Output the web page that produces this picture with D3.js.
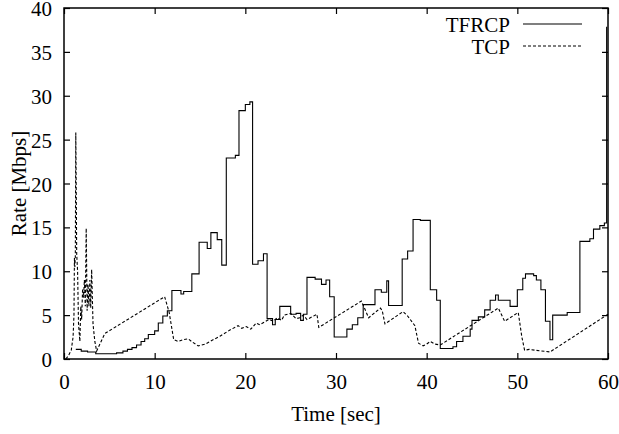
<!DOCTYPE html>
<html>
<head>
  <meta charset="UTF-8">
  <title>Rate vs Time</title>
  <style>
    body { margin: 0; background: #fff; }
    svg { display: block; }
    text { font-family: "Liberation Serif", "DejaVu Serif", serif; }
  </style>
</head>
<body>
  <svg width="619" height="434"></svg>

  <script src="https://d3js.org/d3.v7.min.js"></script>
  <script>
    // TFRCP rate (step-after), [time sec, Mbps]
    const tfrcp = [
      [1.3, 1.1], [1.9, 0.9], [2.6, 0.8], [3.5, 0.6], [5.8, 0.7], [6.5, 0.9], [7.0, 1.1],
      [7.5, 1.3], [8.0, 1.6], [8.5, 2.0], [8.9, 2.3], [9.3, 2.8], [10.0, 3.2], [10.4, 4.1],
      [10.9, 4.9], [11.4, 5.5], [11.9, 7.8], [12.9, 7.4], [13.2, 7.7], [14.1, 9.7],
      [14.9, 13.3], [15.8, 12.6], [16.2, 14.4], [16.9, 13.6], [17.4, 10.7], [17.9, 22.9],
      [18.9, 23.2], [19.3, 28.3], [20.0, 29.0], [20.5, 29.3], [20.8, 10.8], [21.4, 11.2],
      [22.0, 12.0], [22.4, 4.6], [23.0, 3.9], [23.3, 4.5], [23.8, 6.0], [25.0, 5.1],
      [25.6, 5.2], [26.1, 4.4], [26.4, 5.1], [26.8, 9.3], [27.7, 9.1], [28.4, 8.5],
      [28.9, 9.0], [29.3, 7.1], [29.8, 2.5], [31.2, 3.4], [31.8, 3.9], [32.4, 4.7],
      [33.0, 6.2], [34.3, 7.9], [35.0, 7.6], [35.6, 8.9], [35.8, 6.1], [37.3, 11.4],
      [37.9, 12.3], [38.5, 15.9], [39.3, 15.8], [40.4, 7.9], [41.1, 6.7], [41.5, 1.2],
      [42.9, 1.4], [43.3, 2.0], [44.0, 2.6], [44.8, 3.4], [45.0, 4.4], [45.7, 4.8],
      [46.4, 5.6], [47.0, 6.7], [47.6, 7.3], [47.9, 6.7], [49.2, 6.0], [50.0, 7.9],
      [50.6, 9.2], [50.9, 9.7], [51.8, 9.5], [52.1, 9.0], [52.6, 7.9], [53.1, 4.3],
      [53.6, 2.2], [53.9, 5.0], [55.5, 5.3], [56.9, 13.4], [58.0, 13.7], [58.4, 14.8],
      [59.1, 15.2], [59.6, 15.5], [59.85, 37.8], [59.9, 37.8]
    ];

    // TCP rate (linear), [time sec, Mbps]
    const tcp = [
      [0.2, 0], [0.5, 0.4], [0.8, 1.0], [1.0, 2.5], [1.1, 5], [1.15, 11.5], [1.2, 10.5],
      [1.25, 11.7], [1.3, 25.8], [1.4, 12], [1.5, 10], [1.6, 4], [1.75, 2.0], [1.85, 6],
      [1.95, 4.5], [2.05, 8], [2.15, 7], [2.25, 9], [2.35, 6], [2.45, 14.9], [2.55, 5.5],
      [2.65, 8.5], [2.75, 6], [2.85, 9], [2.95, 5.8], [3.05, 10.2], [3.2, 4.0], [3.4, 2.0],
      [3.6, 0.9], [4.5, 2.9],
      [11.1, 7.1], [11.6, 5.3], [12.1, 2.2], [12.6, 2.0], [13.1, 2.2], [13.7, 2.3],
      [14.2, 1.9], [14.8, 1.5], [15.6, 1.7], [16.1, 2.0], [17.2, 2.6], [18.3, 3.3],
      [19.2, 3.8], [19.6, 3.5], [20.1, 3.7], [20.6, 3.4], [21.2, 4.1], [21.6, 3.9],
      [22.6, 4.5], [23.1, 4.3], [23.5, 4.7], [24.0, 4.4], [24.3, 5.0], [25.0, 5.2],
      [25.6, 4.6], [26.0, 4.7], [26.4, 5.0], [26.8, 4.5], [27.9, 5.1], [28.1, 3.6],
      [32.8, 6.6], [33.6, 4.7], [34.9, 5.8], [35.1, 5.5], [35.4, 4.0], [37.4, 5.4],
      [37.9, 4.9], [38.7, 3.8], [39.1, 1.8], [39.6, 1.5], [40.0, 1.7], [40.4, 2.0],
      [40.9, 1.7], [41.5, 1.6], [47.9, 5.8], [48.6, 4.3], [50.1, 5.3], [50.5, 2.5],
      [50.8, 1.0], [51.3, 1.1], [52.0, 1.0], [53.6, 0.8], [60.0, 5.1]
    ];

    const xTicks = [0, 10, 20, 30, 40, 50, 60];
    const yTicks = [0, 5, 10, 15, 20, 25, 30, 35, 40];
    const seriesNames = ["TFRCP", "TCP"];

    const svg = d3.select("svg");
    const mLeft = 64, mRight = 608, mTop = 8, mBottom = 359;
    const FONT = 21;

    const x = d3.scaleLinear().domain([0, 60]).range([mLeft, mRight]);
    const y = d3.scaleLinear().domain([0, 40]).range([mBottom, mTop]);

    // axes, ticks point inward like gnuplot
    function styleAxis(sel) {
      sel.attr("font-family", "Liberation Serif, serif").attr("font-size", FONT);
      sel.select(".domain").remove();
      sel.selectAll(".tick line").attr("stroke", "#000").attr("stroke-width", 1.2);
      sel.selectAll(".tick text").attr("fill", "#000");
    }
    svg.append("g").attr("transform", `translate(${mLeft},0)`)
      .call(d3.axisLeft(y).tickValues(yTicks).tickSize(-6).tickPadding(12))
      .call(styleAxis)
      .selectAll(".tick text").attr("dy", "0.36em");
    svg.append("g").attr("transform", `translate(${mRight},0)`)
      .call(d3.axisRight(y).tickValues(yTicks).tickSize(-6).tickFormat(""))
      .call(styleAxis);
    svg.append("g").attr("transform", `translate(0,${mBottom})`)
      .call(d3.axisBottom(x).tickValues(xTicks).tickSize(-6).tickPadding(15))
      .call(styleAxis);
    svg.append("g").attr("transform", `translate(0,${mTop})`)
      .call(d3.axisTop(x).tickValues(xTicks).tickSize(-6).tickFormat(""))
      .call(styleAxis);

    // frame
    svg.append("rect")
      .attr("x", mLeft).attr("y", mTop)
      .attr("width", mRight - mLeft).attr("height", mBottom - mTop)
      .attr("fill", "none").attr("stroke", "#000").attr("stroke-width", 1.5);

    // lines
    const stepLine = d3.line().x(d => x(d[0])).y(d => y(d[1])).curve(d3.curveStepAfter);
    const plainLine = d3.line().x(d => x(d[0])).y(d => y(d[1]));

    svg.append("path").datum(tfrcp)
      .attr("fill", "none").attr("stroke", "#000").attr("stroke-width", 1.1)
      .attr("d", stepLine);
    svg.append("path").datum(tcp)
      .attr("fill", "none").attr("stroke", "#000").attr("stroke-width", 1.1)
      .attr("stroke-dasharray", "3,2")
      .attr("d", plainLine);

    // legend
    const legend = svg.append("g");
    seriesNames.forEach((name, i) => {
      const ly = 32 + i * 22;
      legend.append("text")
        .attr("x", 510).attr("y", ly)
        .attr("text-anchor", "end").attr("font-size", FONT)
        .text(name);
      legend.append("line")
        .attr("x1", 523).attr("x2", 582)
        .attr("y1", ly - 8).attr("y2", ly - 8)
        .attr("stroke", "#000").attr("stroke-width", 1.1)
        .attr("stroke-dasharray", i === 1 ? "3,2" : null);
    });

    // axis titles
    svg.append("text")
      .attr("x", (mLeft + mRight) / 2).attr("y", 421)
      .attr("text-anchor", "middle").attr("font-size", FONT)
      .text("Time [sec]");
    svg.append("text")
      .attr("transform", `translate(26,${(mTop + mBottom) / 2}) rotate(-90)`)
      .attr("text-anchor", "middle").attr("font-size", FONT)
      .text("Rate [Mbps]");
  </script>
</body>
</html>
